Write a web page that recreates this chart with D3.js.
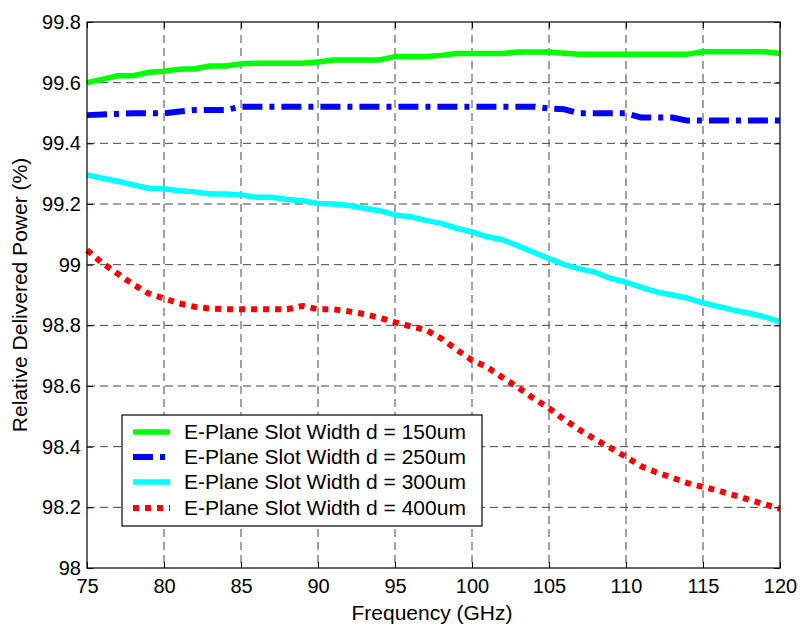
<!DOCTYPE html>
<html><head><meta charset="utf-8">
<script src="https://cdn.jsdelivr.net/npm/d3@7/dist/d3.min.js"></script>
<style>
body{margin:0;background:#fff;}
svg text{font-family:"Liberation Sans",Arial,Helvetica,sans-serif;}
</style></head>
<body><svg id="c" width="800" height="624"></svg>
<script>
const freq = d3.range(75, 121, 1);
const d150 = [99.600,99.611,99.623,99.623,99.634,99.638,99.644,99.646,99.655,99.655,
  99.662,99.664,99.664,99.664,99.664,99.668,99.675,99.675,99.675,99.675,
  99.686,99.686,99.686,99.690,99.696,99.696,99.696,99.696,99.701,99.701,
  99.701,99.697,99.694,99.694,99.694,99.694,99.694,99.694,99.694,99.694,
  99.702,99.702,99.702,99.702,99.702,99.696];
const d250 = [99.493,99.495,99.497,99.499,99.499,99.499,99.505,99.510,99.510,99.510,
  99.521,99.521,99.521,99.521,99.521,99.521,99.521,99.521,99.521,99.521,
  99.521,99.521,99.521,99.521,99.521,99.521,99.521,99.521,99.521,99.521,
  99.515,99.512,99.499,99.499,99.499,99.499,99.485,99.485,99.485,99.475,
  99.475,99.475,99.475,99.475,99.475,99.475];
const d300 = [99.296,99.285,99.275,99.263,99.252,99.250,99.244,99.240,99.233,99.233,
  99.230,99.222,99.222,99.215,99.211,99.202,99.200,99.195,99.186,99.178,
  99.164,99.158,99.146,99.136,99.120,99.108,99.092,99.082,99.062,99.041,
  99.020,99.000,98.986,98.975,98.955,98.942,98.925,98.910,98.900,98.890,
  98.874,98.862,98.850,98.840,98.828,98.812];
const d400 = [99.048,99.005,98.970,98.935,98.905,98.889,98.872,98.861,98.855,98.853,
  98.853,98.853,98.853,98.853,98.864,98.853,98.853,98.846,98.837,98.825,
  98.810,98.797,98.785,98.757,98.720,98.685,98.662,98.627,98.595,98.559,
  98.527,98.489,98.455,98.424,98.396,98.366,98.335,98.315,98.298,98.280,
  98.267,98.255,98.240,98.225,98.210,98.195];
const xTicks = [75,80,85,90,95,100,105,110,115,120];
const yTicks = [98,98.2,98.4,98.6,98.8,99,99.2,99.4,99.6,99.8];
const seriesNames = ["E-Plane Slot Width d = 150um","E-Plane Slot Width d = 250um","E-Plane Slot Width d = 300um","E-Plane Slot Width d = 400um"];

const series = [
  {name:seriesNames[0], vals:d150, color:"#00ff00", w:5.5, dash:null},
  {name:seriesNames[1], vals:d250, color:"#0000ff", w:6, dash:"20,7,5,7"},
  {name:seriesNames[2], vals:d300, color:"#00ffff", w:5.5, dash:null},
  {name:seriesNames[3], vals:d400, color:"#ff0000", w:6, dash:"6,6"}
];

const svg = d3.select("#c");
const L=87, R=780, T=22, B=568;
const x = d3.scaleLinear().domain([75,120]).range([L,R]);
const y = d3.scaleLinear().domain([98,99.8]).range([B,T]);

// grid
const g = svg.append("g");
g.selectAll("line.vg").data(xTicks.slice(1,-1)).enter().append("line")
  .attr("x1",d=>x(d)).attr("x2",d=>x(d)).attr("y1",T).attr("y2",B)
  .attr("stroke","#444").attr("stroke-width",1).attr("stroke-dasharray","8,5");
g.selectAll("line.hg").data(yTicks.slice(1,-1)).enter().append("line")
  .attr("x1",L).attr("x2",R).attr("y1",d=>y(d)).attr("y2",d=>y(d))
  .attr("stroke","#444").attr("stroke-width",1).attr("stroke-dasharray","8,5");

// axes
const fmt = d3.format("~g");
const ax = svg.append("g").attr("transform",`translate(0,${B})`)
  .call(d3.axisBottom(x).tickValues(xTicks).tickSize(-6).tickPadding(16).tickFormat(fmt));
const ay = svg.append("g").attr("transform",`translate(${L},0)`)
  .call(d3.axisLeft(y).tickValues(yTicks).tickSize(-6).tickPadding(6).tickFormat(fmt));
svg.append("g").attr("transform",`translate(0,${T})`)
  .call(d3.axisTop(x).tickValues(xTicks).tickSize(-6).tickFormat(""));
svg.append("g").attr("transform",`translate(${R},0)`)
  .call(d3.axisRight(y).tickValues(yTicks).tickSize(-6).tickFormat(""));
svg.selectAll(".domain").remove();
svg.selectAll(".tick line").attr("stroke","#000");
svg.selectAll(".tick text").attr("font-size",20).attr("fill","#000")
  .attr("font-family","'Liberation Sans',Arial,sans-serif");
ax.selectAll(".tick text").attr("dy","0.45em");

// lines
const line = d3.line().x((d,i)=>x(freq[i])).y(d=>y(d));
const lg = svg.append("g");
series.forEach(s=>{
  lg.append("path").datum(s.vals).attr("d",line).attr("fill","none")
    .attr("stroke",s.color).attr("stroke-width",s.w)
    .attr("stroke-dasharray",s.dash).attr("stroke-linejoin","round")
    .attr("stroke-linecap","butt");
});

// frame
svg.append("rect").attr("x",L).attr("y",T).attr("width",R-L).attr("height",B-T)
  .attr("fill","none").attr("stroke","#000").attr("stroke-width",1.2);

// legend
const lx=122, ly=415, lw=360, lh=111;
const leg = svg.append("g");
leg.append("rect").attr("x",lx).attr("y",ly).attr("width",lw).attr("height",lh)
  .attr("fill","#fff").attr("stroke","#000").attr("stroke-width",1.2);
const rowY = [432,457,482,508];
series.forEach((s,i)=>{
  leg.append("line").attr("x1",133).attr("x2",170).attr("y1",rowY[i]).attr("y2",rowY[i])
    .attr("stroke",s.color).attr("stroke-width",s.w).attr("stroke-dasharray",s.dash);
  leg.append("text").attr("x",184).attr("y",rowY[i]+7).attr("font-size",21)
    .attr("fill","#000").text(s.name);
});

// axis titles
svg.append("text").attr("x",432).attr("y",620).attr("text-anchor","middle")
  .attr("font-size",21).text("Frequency (GHz)");
svg.append("text").attr("transform","translate(27,295) rotate(-90)")
  .attr("text-anchor","middle").attr("font-size",21).text("Relative Delivered Power (%)");
</script></body></html>
